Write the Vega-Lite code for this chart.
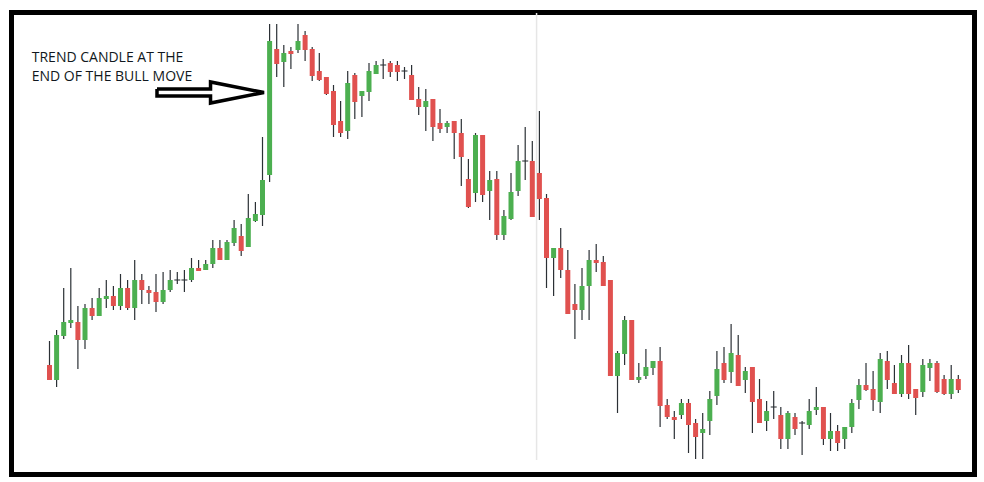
{
  "$schema": "https://vega.github.io/schema/vega-lite/v6.json",
  "width": 963,
  "height": 462,
  "autosize": {"type": "none"},
  "padding": {"left": 11.5, "top": 12.5, "right": 9.5, "bottom": 7.5},
  "background": "white",
  "config": {"view": {"stroke": "#000000", "strokeWidth": 5}, "scale": {"continuousPadding": 0}},
  "datasets": {
    "candles": [
      {"i":0,"o":115,"h":139,"l":100,"c":100},
      {"i":1,"o":100,"h":150,"l":93,"c":145},
      {"i":2,"o":144,"h":192,"l":141,"c":158},
      {"i":3,"o":157,"h":212,"l":152,"c":160},
      {"i":4,"o":158,"h":174,"l":111,"c":140},
      {"i":5,"o":140,"h":176,"l":131,"c":172},
      {"i":6,"o":172,"h":182,"l":160,"c":164},
      {"i":7,"o":164,"h":192,"l":164,"c":182},
      {"i":8,"o":181,"h":200,"l":172,"c":184},
      {"i":9,"o":184,"h":194,"l":170,"c":174},
      {"i":10,"o":174,"h":206,"l":170,"c":192},
      {"i":11,"o":192,"h":200,"l":170,"c":172},
      {"i":12,"o":172,"h":220,"l":160,"c":200},
      {"i":13,"o":200,"h":206,"l":176,"c":190},
      {"i":14,"o":190,"h":194,"l":176,"c":187},
      {"i":15,"o":188,"h":206,"l":168,"c":178},
      {"i":16,"o":178,"h":208,"l":176,"c":190},
      {"i":17,"o":190,"h":210,"l":188,"c":200},
      {"i":18,"o":200,"h":208,"l":196,"c":200},
      {"i":19,"o":200,"h":210,"l":188,"c":200},
      {"i":20,"o":200,"h":222,"l":198,"c":212},
      {"i":21,"o":212,"h":220,"l":209,"c":209},
      {"i":22,"o":210,"h":220,"l":210,"c":216},
      {"i":23,"o":216,"h":240,"l":212,"c":232},
      {"i":24,"o":232,"h":240,"l":220,"c":220},
      {"i":25,"o":220,"h":240,"l":220,"c":238},
      {"i":26,"o":237,"h":260,"l":234,"c":252},
      {"i":27,"o":244,"h":256,"l":224,"c":229},
      {"i":28,"o":233,"h":286,"l":233,"c":262},
      {"i":29,"o":259,"h":278,"l":258,"c":266},
      {"i":30,"o":265,"h":343,"l":254,"c":300},
      {"i":31,"o":305,"h":456,"l":298,"c":439},
      {"i":32,"o":431,"h":456,"l":403,"c":416},
      {"i":33,"o":418,"h":435,"l":393,"c":427},
      {"i":34,"o":429,"h":433,"l":411,"c":426},
      {"i":35,"o":430,"h":456,"l":427,"c":439},
      {"i":36,"o":445,"h":449,"l":419,"c":430},
      {"i":37,"o":431,"h":433,"l":399,"c":404},
      {"i":38,"o":409,"h":427,"l":399,"c":400},
      {"i":39,"o":403,"h":403,"l":385,"c":386},
      {"i":40,"o":389,"h":395,"l":343,"c":355},
      {"i":41,"o":359,"h":379,"l":343,"c":347},
      {"i":42,"o":349,"h":409,"l":341,"c":397},
      {"i":43,"o":405,"h":407,"l":361,"c":378},
      {"i":44,"o":384,"h":389,"l":363,"c":389},
      {"i":45,"o":388,"h":417,"l":379,"c":409},
      {"i":46,"o":406,"h":419,"l":406,"c":415},
      {"i":47,"o":415,"h":421,"l":401,"c":415},
      {"i":48,"o":417,"h":419,"l":403,"c":408},
      {"i":49,"o":415,"h":419,"l":399,"c":408},
      {"i":50,"o":409,"h":413,"l":401,"c":409},
      {"i":51,"o":405,"h":415,"l":380,"c":380},
      {"i":52,"o":381,"h":393,"l":365,"c":373},
      {"i":53,"o":373,"h":391,"l":349,"c":379},
      {"i":54,"o":381,"h":381,"l":339,"c":353},
      {"i":55,"o":357,"h":371,"l":347,"c":351},
      {"i":56,"o":353,"h":359,"l":347,"c":357},
      {"i":57,"o":359,"h":359,"l":321,"c":347},
      {"i":58,"o":347,"h":361,"l":294,"c":323},
      {"i":59,"o":301,"h":321,"l":272,"c":273},
      {"i":60,"o":287,"h":347,"l":278,"c":345},
      {"i":61,"o":345,"h":345,"l":278,"c":285},
      {"i":62,"o":289,"h":309,"l":260,"c":300},
      {"i":63,"o":301,"h":309,"l":240,"c":245},
      {"i":64,"o":245,"h":270,"l":240,"c":264},
      {"i":65,"o":261,"h":307,"l":260,"c":288},
      {"i":66,"o":289,"h":335,"l":284,"c":319},
      {"i":67,"o":319,"h":353,"l":300,"c":319},
      {"i":68,"o":319,"h":339,"l":263,"c":263},
      {"i":69,"o":307,"h":369,"l":260,"c":281},
      {"i":70,"o":282,"h":286,"l":192,"c":222},
      {"i":71,"o":222,"h":232,"l":184,"c":232},
      {"i":72,"o":232,"h":252,"l":202,"c":210},
      {"i":73,"o":210,"h":230,"l":166,"c":166},
      {"i":74,"o":176,"h":196,"l":141,"c":170},
      {"i":75,"o":170,"h":212,"l":160,"c":194},
      {"i":76,"o":194,"h":230,"l":160,"c":220},
      {"i":77,"o":220,"h":236,"l":208,"c":217},
      {"i":78,"o":218,"h":224,"l":194,"c":194},
      {"i":79,"o":200,"h":200,"l":104,"c":104},
      {"i":80,"o":104,"h":129,"l":67,"c":127},
      {"i":81,"o":126,"h":164,"l":115,"c":160},
      {"i":82,"o":160,"h":160,"l":100,"c":100},
      {"i":83,"o":100,"h":117,"l":97,"c":103},
      {"i":84,"o":104,"h":131,"l":101,"c":113},
      {"i":85,"o":112,"h":119,"l":105,"c":119},
      {"i":86,"o":119,"h":133,"l":53,"c":74},
      {"i":87,"o":75,"h":81,"l":61,"c":63},
      {"i":88,"o":63,"h":69,"l":41,"c":60},
      {"i":89,"o":65,"h":81,"l":61,"c":77},
      {"i":90,"o":77,"h":81,"l":27,"c":55},
      {"i":91,"o":57,"h":61,"l":21,"c":43},
      {"i":92,"o":47,"h":67,"l":21,"c":51},
      {"i":93,"o":59,"h":89,"l":45,"c":81},
      {"i":94,"o":84,"h":129,"l":75,"c":111},
      {"i":95,"o":117,"h":133,"l":97,"c":100},
      {"i":96,"o":108,"h":156,"l":97,"c":127},
      {"i":97,"o":125,"h":145,"l":94,"c":94},
      {"i":98,"o":100,"h":113,"l":87,"c":109},
      {"i":99,"o":113,"h":113,"l":47,"c":78},
      {"i":100,"o":81,"h":101,"l":57,"c":57},
      {"i":101,"o":59,"h":79,"l":49,"c":69},
      {"i":102,"o":73,"h":89,"l":61,"c":73},
      {"i":103,"o":65,"h":73,"l":31,"c":41},
      {"i":104,"o":41,"h":69,"l":31,"c":67},
      {"i":105,"o":63,"h":67,"l":45,"c":51},
      {"i":106,"o":57,"h":59,"l":25,"c":57},
      {"i":107,"o":55,"h":81,"l":51,"c":69},
      {"i":108,"o":70,"h":93,"l":65,"c":73},
      {"i":109,"o":73,"h":73,"l":35,"c":41},
      {"i":110,"o":41,"h":67,"l":29,"c":49},
      {"i":111,"o":49,"h":55,"l":29,"c":37},
      {"i":112,"o":41,"h":53,"l":31,"c":53},
      {"i":113,"o":53,"h":81,"l":47,"c":77},
      {"i":114,"o":80,"h":101,"l":71,"c":95},
      {"i":115,"o":95,"h":117,"l":89,"c":90},
      {"i":116,"o":91,"h":109,"l":69,"c":80},
      {"i":117,"o":78,"h":127,"l":67,"c":121},
      {"i":118,"o":119,"h":129,"l":91,"c":100},
      {"i":119,"o":97,"h":115,"l":86,"c":86},
      {"i":120,"o":86,"h":125,"l":83,"c":117},
      {"i":121,"o":117,"h":135,"l":81,"c":86},
      {"i":122,"o":91,"h":91,"l":65,"c":82},
      {"i":123,"o":88,"h":121,"l":83,"c":115},
      {"i":124,"o":112,"h":121,"l":99,"c":117},
      {"i":125,"o":117,"h":119,"l":87,"c":88},
      {"i":126,"o":101,"h":105,"l":85,"c":86},
      {"i":127,"o":86,"h":115,"l":81,"c":101},
      {"i":128,"o":101,"h":105,"l":87,"c":90}
    ],
    "arrow": [
      {"k":0,"ax":15.14,"ay":391},
      {"k":1,"ax":22.68,"ay":391},
      {"k":2,"ax":22.68,"ay":398},
      {"k":3,"ax":30.21,"ay":387.5},
      {"k":4,"ax":22.68,"ay":377},
      {"k":5,"ax":22.68,"ay":384},
      {"k":6,"ax":15.14,"ay":384},
      {"k":7,"ax":15.14,"ay":391}
    ],
    "notes": [
      {"tx":-2.5,"ty":418.3,"label":"TREND CANDLE AT THE"},
      {"tx":-2.5,"ty":399.3,"label":"END OF THE BULL MOVE"}
    ],
    "sep": [{"xs":68.6,"bot":20,"top":467}]
  },
  "layer": [
    {
      "data": {"name": "sep"},
      "mark": {"type": "rule", "color": "#e6e6e6", "strokeWidth": 1.5},
      "encoding": {
        "x": {"field": "xs", "type": "quantitative", "scale": {"domain": [-5.352, 130.28], "nice": false, "zero": false, "padding": 0}, "axis": null},
        "y": {"field": "bot", "type": "quantitative", "scale": {"domain": [5.5, 467.5], "nice": false, "zero": false, "padding": 0}, "axis": null},
        "y2": {"field": "top"}
      }
    },
    {
      "data": {"name": "candles"},
      "mark": {"type": "rule", "color": "#2b3035", "strokeWidth": 1.2},
      "encoding": {
        "x": {"field": "i", "type": "quantitative", "axis": null},
        "y": {"field": "l", "type": "quantitative", "axis": null},
        "y2": {"field": "h"}
      }
    },
    {
      "data": {"name": "candles"},
      "mark": {"type": "bar", "size": 5},
      "encoding": {
        "x": {"field": "i", "type": "quantitative", "axis": null},
        "y": {"field": "o", "type": "quantitative", "axis": null},
        "y2": {"field": "c"},
        "color": {"condition": {"test": "datum.c > datum.o", "value": "#4CAF50"}, "value": "#E0514F"}
      }
    },
    {
      "data": {"name": "candles"},
      "transform": [{"filter": "datum.o == datum.c"}],
      "mark": {"type": "tick", "orient": "horizontal", "size": 6, "thickness": 1.5, "color": "#2b3035"},
      "encoding": {
        "x": {"field": "i", "type": "quantitative", "axis": null},
        "y": {"field": "o", "type": "quantitative", "axis": null}
      }
    },
    {
      "data": {"name": "arrow"},
      "mark": {"type": "line", "color": "#000000", "strokeWidth": 3.5, "strokeJoin": "miter"},
      "encoding": {
        "x": {"field": "ax", "type": "quantitative", "axis": null},
        "y": {"field": "ay", "type": "quantitative", "axis": null},
        "order": {"field": "k", "type": "quantitative"}
      }
    },
    {
      "data": {"name": "notes"},
      "mark": {"type": "text", "align": "left", "baseline": "alphabetic", "font": "Open Sans", "fontSize": 14, "color": "#111820"},
      "encoding": {
        "x": {"field": "tx", "type": "quantitative", "axis": null},
        "y": {"field": "ty", "type": "quantitative", "axis": null},
        "text": {"field": "label"}
      }
    }
  ]
}
